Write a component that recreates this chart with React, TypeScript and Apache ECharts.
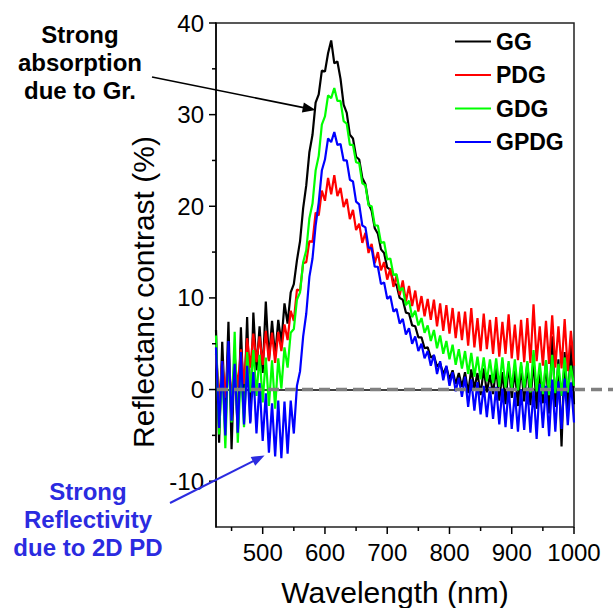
import React, { useEffect, useRef } from 'react';
import * as echarts from 'echarts';

// sampling grid: 425 nm to 1000 nm every 5 nm (116 samples)
const wavelengths: number[] = [];
for (let w = 425; w <= 1000; w += 5) wavelengths.push(w);

const seriesNames = ['GG', 'PDG', 'GDG', 'GPDG'];
const seriesColors = ['#000000', '#ff0000', '#00ff00', '#0000ff'];

const gg = [
  6.5, -5.8, 5.2, -3.1, 7.4, -6.5, 4.1, -4.8, 6.8, -2.6,
  7.9, -3.5, 8.4, 2.1, 6.9, 1.8, 9.6, 3.2, 7.5, 3.6,
  7.6, 5.1, 9.4, 7.2, 10.6, 11.5, 14.1, 16.2, 19.8, 22.3,
  25.9, 27.8, 31.3, 32.2, 34.8, 34.7, 36.7, 38.1, 35.6, 35.8,
  33.9, 31.1, 30.2, 27.8, 27.4, 25.4, 25.1, 23.1, 22.4, 20.3,
  19.5, 17.6, 17.0, 15.3, 14.9, 13.3, 13.1, 11.7, 11.4, 10.0,
  9.8, 8.4, 8.3, 7.0, 6.9, 5.7, 5.7, 4.5, 4.6, 3.5,
  3.7, 2.5, 2.9, 1.7, 2.5, 1.1, 2.1, 0.6, 1.8, 0.3,
  1.9, -0.4, 2.2, 0.1, 1.8, -0.6, 2.3, -0.3, 1.6, -0.5,
  2.4, -1.2, 1.9, -1.6, 2.8, -0.9, 2.1, -1.8, 2.6, -1.3,
  2.9, -1.7, 3.4, -2.1, 2.2, -1.5, 3.1, -2.6, 5.8, -1.9,
  3.3, -6.2, 4.1, -2.4, 5.2, -1.6,
];

const pdg = [
  3.9, -1.2, 3.1, -0.9, 4.2, -1.4, 3.5, 0.2, 4.4, 0.6,
  5.6, 2.4, 6.1, 3.0, 5.8, 2.7, 6.4, 3.1, 6.2, 2.9,
  6.3, 4.2, 7.1, 5.4, 8.6, 7.5, 10.9, 10.8, 13.8, 13.9,
  16.2, 16.1, 19.3, 19.0, 21.7, 20.6, 23.1, 21.3, 23.4, 21.1,
  22.0, 19.9, 20.8, 18.6, 19.6, 17.4, 18.1, 16.0, 17.1, 14.9,
  15.9, 13.8, 15.0, 13.0, 13.9, 12.0, 13.2, 11.2, 12.4, 10.3,
  11.9, 9.6, 11.3, 9.1, 10.8, 8.5, 10.2, 8.0, 9.9, 7.6,
  9.8, 6.9, 9.4, 6.4, 9.2, 6.1, 8.9, 5.6, 8.5, 5.4,
  8.5, 4.8, 8.9, 4.6, 7.8, 4.2, 8.3, 4.4, 7.6, 3.9,
  7.9, 3.6, 7.4, 3.9, 8.2, 3.4, 7.1, 3.2, 7.6, 3.0,
  7.8, 2.9, 9.3, 3.1, 6.9, 2.6, 7.5, 2.8, 8.1, 2.4,
  6.9, 2.3, 7.7, 2.0, 6.4, 2.6,
];

const gdg = [
  5.9, -4.9, 2.7, -6.4, 4.2, -3.6, 6.3, -5.8, 2.4, -4.1,
  4.1, -0.3, 4.3, -0.7, 3.8, -1.4, 3.5, -1.8, 3.2, -2.1,
  3.4, 0.1, 4.6, 2.4, 6.2, 6.6, 9.8, 10.6, 13.9, 15.2,
  18.7, 20.3, 23.9, 25.5, 28.9, 29.8, 32.1, 31.8, 32.9, 31.5,
  31.5, 29.3, 29.0, 26.7, 26.7, 24.8, 24.7, 22.5, 22.3, 20.1,
  20.0, 17.9, 17.9, 16.0, 16.1, 14.2, 14.3, 12.5, 12.6, 10.8,
  11.1, 9.2, 9.7, 7.9, 8.6, 7.0, 7.8, 6.2, 7.0, 5.3,
  6.5, 4.5, 5.9, 3.9, 5.3, 3.3, 4.9, 2.7, 4.4, 2.3,
  4.2, 1.7, 4.0, 1.4, 3.6, 1.1, 3.5, 0.9, 3.3, 0.7,
  3.4, 0.3, 3.5, 0.2, 3.1, 0.1, 3.3, -0.1, 3.0, 0.0,
  3.1, -0.3, 4.3, -0.2, 2.9, -0.5, 3.2, -0.6, 3.8, -0.4,
  2.8, -0.7, 3.5, -0.3, 2.6, 0.4,
];

const gpdg = [
  4.6, -4.2, 3.1, -5.0, 5.3, -3.4, 2.8, -4.7, 4.1, -3.8,
  2.6, -3.7, 1.9, -4.8, 0.7, -5.6, -0.4, -6.9, -1.5, -7.3,
  -1.2, -7.5, -1.3, -7.0, -1.2, -4.8, 0.4, 2.0, 5.8, 8.3,
  12.3, 14.3, 17.9, 20.4, 23.9, 25.1, 27.4, 27.0, 28.1, 26.7,
  26.8, 25.0, 25.0, 22.9, 22.7, 20.5, 20.2, 17.9, 17.7, 15.5,
  15.4, 13.4, 13.4, 11.5, 11.7, 9.9, 10.2, 8.5, 8.8, 7.2,
  7.7, 6.0, 6.7, 5.0, 5.8, 4.2, 5.0, 3.4, 4.2, 2.6,
  3.8, 1.7, 3.1, 1.0, 2.6, 0.4, 1.9, -0.2, 1.3, -0.8,
  1.4, -1.9, 1.1, -2.3, 0.8, -2.7, 0.4, -3.0, 0.3, -3.2,
  0.3, -3.8, 0.1, -4.1, 0.2, -4.3, -0.3, -4.6, 0.0, -4.4,
  0.2, -4.7, -0.1, -5.4, 0.6, -4.2, 0.4, -5.1, 1.1, -4.6,
  0.9, -4.3, 1.2, -3.9, 0.8, -3.6,
];

const seriesValues = [gg, pdg, gdg, gpdg];

const xMajorTicks = [500, 600, 700, 800, 900, 1000];
const xMinorTicks = [450, 550, 650, 750, 850, 950];
const yMajorTicks = [-10, 0, 10, 20, 30, 40];
const yMinorTicks = [-5, 5, 15, 25, 35];

const X_MIN = 425;
const X_MAX = 1000;
const Y_MIN = -15;
const Y_MAX = 40;

const absorptionNote = ['Strong', 'absorption', 'due to Gr.'];
const reflectNote = ['Strong', 'Reflectivity', 'due to 2D PD'];
const absorptionTip = [585, 30.5];
const reflectTip = [503, -7.2];

const FONT = '"Liberation Sans", Arial, sans-serif';
const NOTE_BLUE = '#2b2be0';

function arrow(tail: number[], tip: number[], color: string, width: number) {
  const dx = tip[0] - tail[0];
  const dy = tip[1] - tail[1];
  const len = Math.sqrt(dx * dx + dy * dy);
  const ux = dx / len;
  const uy = dy / len;
  const L = 13;
  const W = 5;
  const bx = tip[0] - ux * L;
  const by = tip[1] - uy * L;
  return [
    {
      type: 'line',
      z: 110,
      shape: { x1: tail[0], y1: tail[1], x2: bx + ux * 2, y2: by + uy * 2 },
      style: { stroke: color, lineWidth: width },
    },
    {
      type: 'polygon',
      z: 110,
      shape: {
        points: [
          [tip[0], tip[1]],
          [bx - uy * W, by + ux * W],
          [bx + uy * W, by - ux * W],
        ],
      },
      style: { fill: color },
    },
  ];
}

function noteLines(lines: string[], cx: number, firstY: number, step: number, color: string) {
  return lines.map((t, i) => ({
    type: 'text',
    z: 110,
    x: cx,
    y: firstY + i * step,
    style: {
      text: t,
      textAlign: 'center',
      textVerticalAlign: 'middle',
      font: 'bold 24px "Liberation Sans", Arial, sans-serif',
      fill: color,
    },
  }));
}

export default function App() {
  const ref = useRef<HTMLDivElement>(null);
  useEffect(() => {
    if (!ref.current) return;
    const chart = echarts.init(ref.current, null, { renderer: 'svg' });
    const axisLineStyle = { color: '#000', width: 1.5 };

    const xTickData = [
      ...xMajorTicks.map((v) => [v, 7]),
      ...xMinorTicks.map((v) => [v, 4]),
    ];
    const yTickData = [
      ...yMajorTicks.map((v) => [v, 7]),
      ...yMinorTicks.map((v) => [v, 4]),
    ];

    const option: any = {
      animation: false,
      backgroundColor: '#ffffff',
      grid: {
        left: 216,
        right: 39,
        top: 23,
        bottom: 81,
        containLabel: false,
        outerBoundsMode: 'none',
        show: true,
        borderColor: '#222',
        borderWidth: 1.5,
        backgroundColor: 'transparent',
      },
      legend: {
        orient: 'vertical',
        left: 455,
        top: 30,
        padding: 0,
        icon: 'rect',
        itemWidth: 36,
        itemHeight: 2,
        itemGap: 10.5,
        data: seriesNames,
        textStyle: { fontSize: 23, fontWeight: 'bold', color: '#000', fontFamily: FONT, lineHeight: 22 },
      },
      xAxis: {
        type: 'value',
        min: X_MIN,
        max: X_MAX,
        position: 'bottom',
        axisLine: { show: true, lineStyle: axisLineStyle },
        axisTick: { show: false },
        axisLabel: {
          customValues: xMajorTicks,
          margin: 13,
          fontSize: 24,
          color: '#000',
          fontFamily: FONT,
          formatter: (v: number) => String(v),
        },
        splitLine: { show: false },
        name: 'Wavelength (nm)',
        nameLocation: 'middle',
        nameGap: 50,
        nameTextStyle: { fontSize: 30, color: '#000', fontFamily: FONT },
      },
      yAxis: {
        type: 'value',
        min: Y_MIN,
        max: Y_MAX,
        position: 'left',
        axisLine: { show: true, lineStyle: axisLineStyle },
        axisTick: { show: false },
        axisLabel: {
          customValues: yMajorTicks,
          margin: 12,
          fontSize: 24,
          color: '#000',
          fontFamily: FONT,
          formatter: (v: number) => String(v),
        },
        splitLine: { show: false },
        name: 'Reflectanc contrast (%)',
        nameLocation: 'middle',
        nameGap: 57,
        nameTextStyle: { fontSize: 30, color: '#000', fontFamily: FONT, padding: [0, 34, 0, 0] },
      },
      series: [
        ...seriesNames.map((name, k) => ({
          name,
          type: 'line',
          showSymbol: false,
          symbol: 'none',
          color: seriesColors[k],
          lineStyle: { color: seriesColors[k], width: 2.2 },
          data: wavelengths.map((w, i) => [w, seriesValues[k][i]]),
        })),
        {
          type: 'custom',
          name: 'xticks',
          silent: true,
          clip: false,
          z: 20,
          data: xTickData,
          renderItem: (_p: any, api: any) => {
            const p = api.coord([api.value(0), Y_MIN]);
            return {
              type: 'line',
              shape: { x1: p[0], y1: p[1], x2: p[0], y2: p[1] + api.value(1) },
              style: { stroke: '#000', lineWidth: 1.5 },
            };
          },
        },
        {
          type: 'custom',
          name: 'yticks',
          silent: true,
          clip: false,
          z: 20,
          data: yTickData.map((d) => [X_MIN, d[0], d[1]]),
          renderItem: (_p: any, api: any) => {
            const p = api.coord([X_MIN, api.value(1)]);
            return {
              type: 'line',
              shape: { x1: p[0] - api.value(2), y1: p[1], x2: p[0], y2: p[1] },
              style: { stroke: '#000', lineWidth: 1.5 },
            };
          },
        },
      ],
    };
    chart.setOption(option);

    const zeroL = chart.convertToPixel({ xAxisIndex: 0, yAxisIndex: 0 }, [X_MIN, 0]) as number[];
    const tipA = chart.convertToPixel({ xAxisIndex: 0, yAxisIndex: 0 }, absorptionTip) as number[];
    const tipB = chart.convertToPixel({ xAxisIndex: 0, yAxisIndex: 0 }, reflectTip) as number[];

    chart.setOption({
      graphic: [
        {
          type: 'line',
          z: 100,
          shape: { x1: zeroL[0] + 1, y1: zeroL[1], x2: 613, y2: zeroL[1] },
          style: { stroke: '#808080', lineWidth: 3.5, lineDash: [11, 6] },
        },
        ...arrow([152, 77], tipA, '#000', 1.6),
        ...arrow([170, 503], tipB, NOTE_BLUE, 2),
        ...noteLines(absorptionNote, 80, 34, 28, '#000'),
        ...noteLines(reflectNote, 88, 491, 28, NOTE_BLUE),
      ],
    });

    return () => chart.dispose();
  }, []);
  return (
    <div
      ref={ref}
      style={{ position: 'fixed', left: 0, top: 0, width: 613, height: 608, background: '#fff' }}
    />
  );
}
